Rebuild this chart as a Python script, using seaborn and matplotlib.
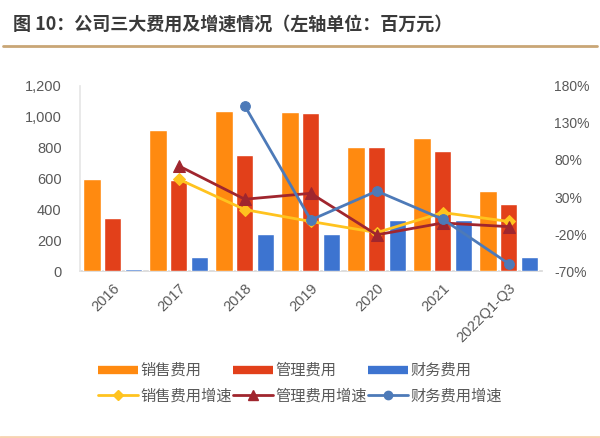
import numpy as np
import pandas as pd
import matplotlib
matplotlib.use("Agg")
import matplotlib.pyplot as plt
from matplotlib.lines import Line2D
from matplotlib.ticker import FuncFormatter, MultipleLocator, FixedLocator
import seaborn as sns

categories = ["2016", "2017", "2018", "2019", "2020", "2021", "2022Q1-Q3"]
sales = [595, 915, 1040, 1033, 806, 861, 519]
admin = [344, 592, 754, 1027, 806, 780, 435]
finance = [14, 93, 240, 240, 331, 331, 89]
sales_g = [np.nan, 54, 13, -3, -18, 9, -3]
admin_g = [np.nan, 72, 27, 35, -21, -5, -10]
finance_g = [np.nan, np.nan, 153, -1, 38, 0, -60]
right_ticks = [-70, -20, 30, 80, 130, 180]

bar_names = ["销售费用", "管理费用", "财务费用"]
line_names = ["销售费用增速", "管理费用增速", "财务费用增速"]
bar_colors = ["#FF8A10", "#E2401A", "#3D74D0"]
line_colors = ["#FFC31F", "#A0262E", "#4D7AB8"]
markers = ["D", "^", "o"]
msizes = [6, 8, 7]

sns.set_theme(style="white")
plt.rcParams["font.family"] = ["Noto Sans CJK SC", "DejaVu Sans"]

df = pd.DataFrame({
    "cat": categories * 3,
    "val": sales + admin + finance,
    "kind": sum([[n] * len(categories) for n in bar_names], []),
})

fig = plt.figure(figsize=(6, 4.38), dpi=100)
ax = fig.add_axes([0.133, 0.381, 0.77, 0.423])
sns.barplot(data=df, x="cat", y="val", hue="kind", hue_order=bar_names,
            palette=bar_colors, width=0.95, gap=0.17, ax=ax, legend=False,
            saturation=1)
ax.set_ylim(0, 1200)
ax.set_xlim(-0.5, len(categories) - 0.5)
ax.yaxis.set_major_locator(MultipleLocator(200))
ax.yaxis.set_major_formatter(FuncFormatter(lambda v, p: f"{int(v):,}"))
ax.set_xlabel("")
ax.set_ylabel("")
for s in ["top", "right"]:
    ax.spines[s].set_visible(False)
ax.spines["left"].set_color("#E6E6E6")
ax.spines["bottom"].set_color("#D9D9D9")
ax.spines["bottom"].set_zorder(0)
ax.tick_params(axis="y", labelsize=10.5, colors="#595959", length=0, pad=13)
ax.tick_params(axis="x", labelsize=10.5, colors="#595959", length=0, pad=7)
for lab in ax.get_yticklabels():
    lab.set_fontfamily(["Liberation Sans", "DejaVu Sans"])
for lab in ax.get_xticklabels():
    lab.set_rotation(45)
    lab.set_ha("right")
    lab.set_rotation_mode("anchor")
    lab.set_fontfamily(["Liberation Sans", "DejaVu Sans"])

ax2 = ax.twinx()
pos = np.arange(len(categories))
for vals, name, c, m, ms in zip([sales_g, admin_g, finance_g], line_names,
                                line_colors, markers, msizes):
    sns.lineplot(x=pos, y=vals, color=c, marker=m, markersize=ms,
                 markeredgecolor=c, linewidth=2, ax=ax2, legend=False)
ax2.set_ylim(-70, 180)
ax2.yaxis.set_major_locator(FixedLocator(right_ticks))
ax2.yaxis.set_major_formatter(FuncFormatter(lambda v, p: f"{int(round(v))}%"))
ax2.set_ylabel("")
for s in ["top", "right", "left", "bottom"]:
    ax2.spines[s].set_visible(False)
ax2.tick_params(axis="y", labelsize=10, colors="#595959", length=0, pad=9)
for lab in ax2.get_yticklabels():
    lab.set_fontfamily(["Liberation Sans", "DejaVu Sans"])

handles = []
for i in range(3):
    handles.append(Line2D([], [], color=bar_colors[i], lw=6, solid_capstyle="butt"))
    handles.append(Line2D([], [], color=line_colors[i], lw=2, marker=markers[i],
                          markersize=msizes[i] - 1))
labels = []
for i in range(3):
    labels += [bar_names[i], line_names[i]]
leg = fig.legend(handles, labels, ncol=3, loc="center", bbox_to_anchor=(0.5, 0.125),
                 frameon=False, fontsize=11, handlelength=2.6, handletextpad=0.15,
                 columnspacing=0.1, labelspacing=0.55, labelcolor="#595959")

fig.text(0.022, 0.945, "图 10：公司三大费用及增速情况（左轴单位：百万元）",
         fontsize=13, fontweight="bold", color="#3a3a3a", va="center", ha="left")
fig.add_artist(Line2D([0.005, 0.995], [1 - 46 / 438, 1 - 46 / 438],
                      color="#C9A676", lw=2, transform=fig.transFigure))
fig.add_artist(Line2D([0.0, 1.0], [0.003, 0.003], color="#F8D2B0", lw=2,
                      transform=fig.transFigure))

fig.savefig("out.png", dpi=100)
